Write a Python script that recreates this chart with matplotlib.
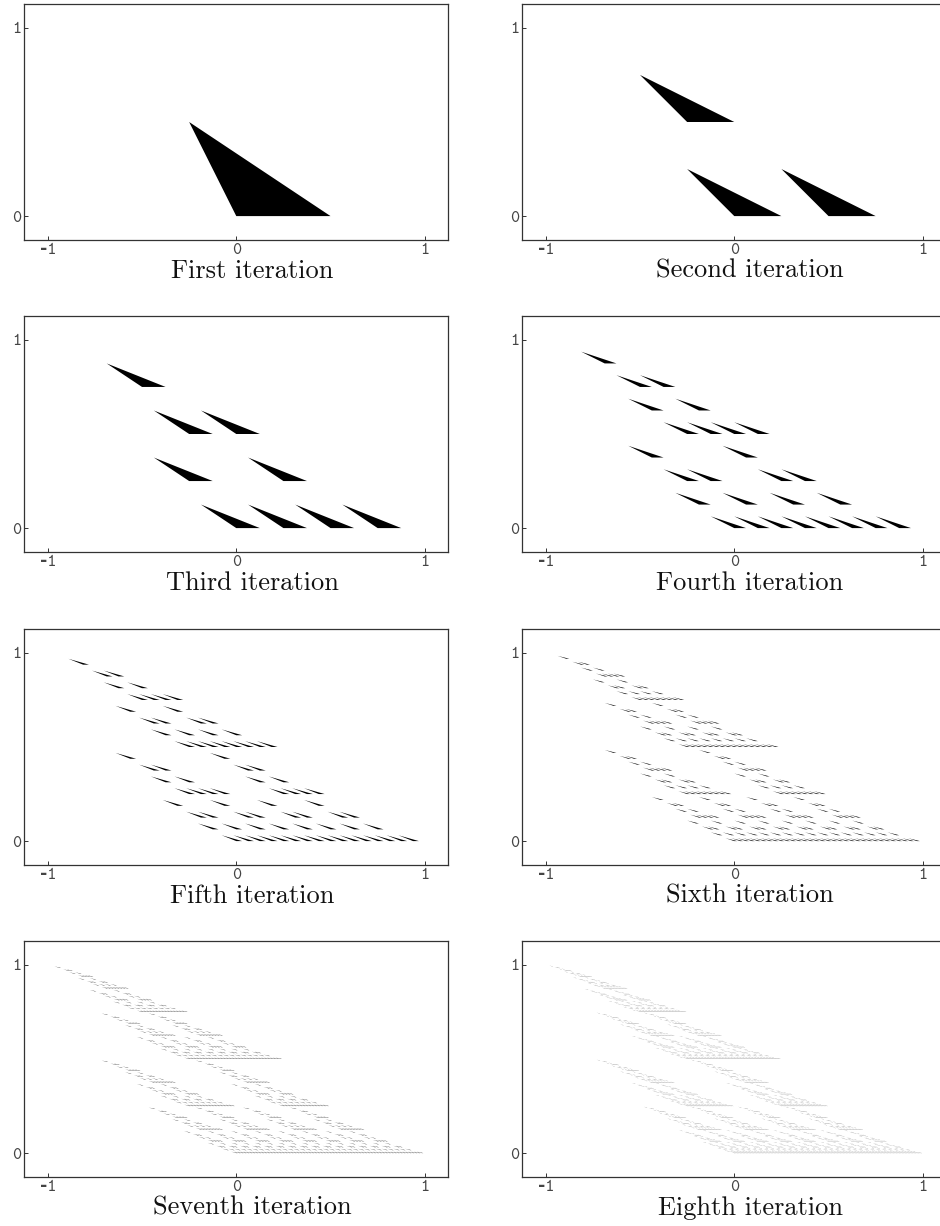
import numpy as np
import matplotlib
matplotlib.use("Agg")
import matplotlib.pyplot as plt
from matplotlib.collections import PolyCollection

# the pictures are an iterated function system, so these few numbers are the data
seed_triangle = [[0, 0], [1, 0], [0, 1]]
shrink_map = [[0.5, -0.25], [0, 0.5]]
shifts = [[0, 0], [0.5, 0], [-0.25, 0.5]]
titles = ["First iteration", "Second iteration", "Third iteration", "Fourth iteration",
          "Fifth iteration", "Sixth iteration", "Seventh iteration", "Eighth iteration"]
tick_values = [-1, 0, 1]
tick_labels = ["\u20101", "0", "1"]  # hyphen falls back to a bold font, like the heavy dash in the original

A = np.array(shrink_map, dtype=float)
D = np.array(shifts, dtype=float)


def next_iteration(tris):
    out = []
    for d in D:
        out.append(tris @ A.T + d)
    return np.concatenate(out)


W, H = 940, 1226
lefts = [24, 522]
tops = [4, 316, 629, 941]
ax_w, ax_h = 424, 236
tick_font = dict(family=["cmtt10", "DejaVu Sans"], weight="bold", fontsize=12.5, color="#444444")

fig = plt.figure(figsize=(W / 100, H / 100), dpi=100)

tris = np.array([seed_triangle], dtype=float) @ A.T
for i in range(8):
    row, col = i // 2, i % 2
    ax = fig.add_axes([lefts[col] / W, 1 - (tops[row] + ax_h) / H, ax_w / W, ax_h / H])
    ax.add_collection(PolyCollection(tris, facecolors="black", edgecolors="none", linewidths=0))
    ax.set_xlim(-1.126, 1.123)
    ax.set_ylim(-0.127, 1.127)
    ax.set_xticks(tick_values)
    ax.set_xticklabels(tick_labels, **tick_font)
    ax.set_yticks(tick_values[1:])
    ax.set_yticklabels(tick_labels[1:], **tick_font)
    ax.tick_params(direction="in", length=3, width=0.7, pad=2, color="#333333")
    for s in ax.spines.values():
        s.set_linewidth(0.9)
        s.set_color("#333333")
    ax.set_xlabel(titles[i], family="cmr10", fontsize=19, color="#111111")
    ax.xaxis.set_label_coords(0.5 + 16 / ax_w, -19 / ax_h, transform=ax.transAxes)
    ax.xaxis.label.set_va("top")
    tris = next_iteration(tris)

fig.savefig("out.png", dpi=100)
